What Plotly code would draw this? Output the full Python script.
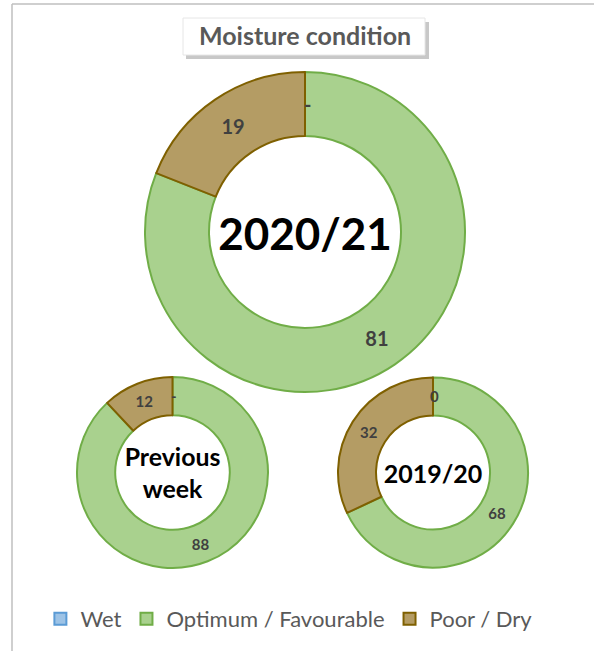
import plotly.graph_objects as go

categories = ["Wet", "Optimum / Favourable", "Poor / Dry"]
values_2020_21 = [0, 81, 19]
values_prev_week = [0, 88, 12]
values_2019_20 = [0, 68, 32]
labels_2020_21 = ["-", "81", "19"]
labels_prev_week = ["-", "88", "12"]
labels_2019_20 = ["0", "68", "32"]

fill_colors = ["#9dc3e6", "#a9d18e", "#b49c64"]
line_colors = ["#5b9bd5", "#70ad47", "#7f6000"]

FONT = "Lato"
W, H = 594, 651


def px(xa, xb):
    return [xa / W, xb / W]


def py(top, bottom):
    return [1 - bottom / H, 1 - top / H]


def donut(vals, txt, title, tsize, lsize, dom_x, dom_y, show):
    return go.Pie(
        labels=categories,
        values=vals,
        text=txt,
        textinfo="text",
        textposition="inside",
        insidetextorientation="horizontal",
        textfont=dict(family=FONT, size=lsize, color="#404040", weight="bold"),
        sort=False,
        direction="clockwise",
        rotation=0,
        hole=0.6,
        marker=dict(colors=fill_colors, line=dict(color=line_colors, width=2)),
        title=dict(text=title, position="middle center",
                   font=dict(family=FONT, size=tsize, color="#000000", weight="bold")),
        domain=dict(x=dom_x, y=dom_y),
        showlegend=show,
        hoverinfo="label+value",
    )


fig = go.Figure()
pies = [
    (values_2020_21, labels_2020_21, "2020/21", 44, 20, px(145, 465), py(72, 392)),
    (values_prev_week, labels_prev_week, "Previous<br>week", 26, 15, px(75, 270), py(377, 568)),
    (values_2019_20, labels_2019_20, "2019/20", 25, 15, px(338, 528), py(377, 568)),
]
for i, (v, t, ttl, ts, ls, dx, dy) in enumerate(pies):
    fig.add_trace(donut(v, t, ttl, ts, ls, dx, dy, i == 0))
    # zero-valued slices get no text from plotly; place their label at 12 o'clock, mid-ring
    cx = (dx[0] + dx[1]) / 2
    r_mid = (dy[1] - dy[0]) / 2 * (1 + 0.6) / 2
    top_mid = (dy[0] + dy[1]) / 2 + r_mid
    for k, val in enumerate(v):
        if val == 0:
            fig.add_annotation(text="<b>%s</b>" % t[k], xref="paper", yref="paper",
                               x=cx + 2 / W, y=top_mid, xanchor="center", yanchor="middle",
                               showarrow=False,
                               font=dict(family=FONT, size=ls, color="#404040"))

# frame lines (top and left)
fig.add_shape(type="line", xref="paper", yref="paper", x0=12 / W, x1=1, y0=1 - 4 / H, y1=1 - 4 / H,
              line=dict(color="#bfbfbf", width=1.5))
fig.add_shape(type="line", xref="paper", yref="paper", x0=12 / W, x1=12 / W, y0=0, y1=1 - 4 / H,
              line=dict(color="#bfbfbf", width=1.5))
# title box with shadow
fig.add_shape(type="rect", xref="paper", yref="paper", x0=186 / W, x1=429 / W, y0=1 - 59 / H, y1=1 - 22 / H,
              line=dict(width=0), fillcolor="#c8c8c8", layer="below")
fig.add_shape(type="rect", xref="paper", yref="paper", x0=183 / W, x1=425 / W, y0=1 - 55 / H, y1=1 - 18 / H,
              line=dict(color="#e6e6e6", width=1), fillcolor="#ffffff", layer="below")
fig.add_annotation(text="<b>Moisture condition</b>", xref="paper", yref="paper",
                   x=305 / W, y=1 - 35 / H, xanchor="center", yanchor="middle", showarrow=False,
                   font=dict(family=FONT, size=25, color="#595959"))

fig.update_layout(
    width=W, height=H,
    margin=dict(l=0, r=0, t=0, b=0),
    paper_bgcolor="#ffffff",
    legend=dict(orientation="h", x=0.068, y=1 - 619 / H, yanchor="middle", xanchor="left",
                font=dict(family=FONT, size=22, color="#595959"),
                itemwidth=30, traceorder="normal"),
)

fig.write_html("out.html", config={"displayModeBar": False})
with open("out.html", "r", encoding="utf-8") as f:
    html = f.read()
html = html.replace("<body>", '<body style="margin:0;padding:0;">', 1)
with open("out.html", "w", encoding="utf-8") as f:
    f.write(html)
